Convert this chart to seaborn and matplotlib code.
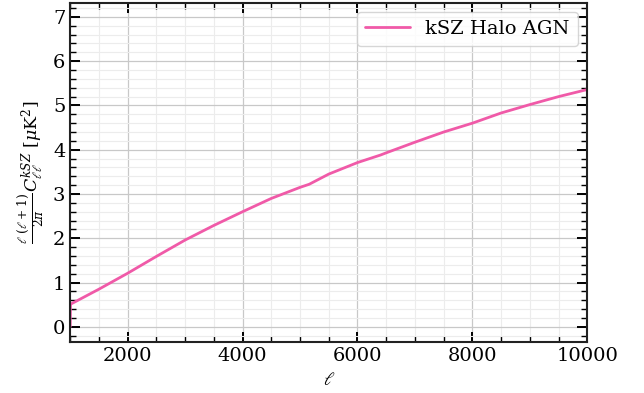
import numpy as np
import pandas as pd
import matplotlib
matplotlib.use("Agg")
import matplotlib.pyplot as plt
import seaborn as sns
from matplotlib.ticker import MultipleLocator

# kSZ power spectrum
ell = [1000, 1005, 1500, 2000, 2500, 3000, 3500, 4000, 4500, 5000, 5160,
       5500, 6000, 6400, 6500, 7000, 7500, 8000, 8500, 9000, 9500, 10000]
dl_ksz = [0.0, 0.51, 0.85, 1.21, 1.59, 1.96, 2.29, 2.60, 2.90, 3.15, 3.22,
          3.45, 3.71, 3.88, 3.93, 4.17, 4.40, 4.60, 4.83, 5.02, 5.20, 5.36]
label = "kSZ Halo AGN"

df = pd.DataFrame({"ell": ell, "dl": dl_ksz, "model": label})

sns.set_theme(style="ticks")
plt.rcParams["font.family"] = ["DejaVu Serif"]
plt.rcParams["mathtext.fontset"] = "dejavuserif"
plt.rcParams["text.color"] = "black"
plt.rcParams["axes.labelcolor"] = "black"

fig = plt.figure(figsize=(6.44, 3.93), dpi=100)
ax = fig.add_axes([0.109, 0.129, 0.803, 0.864])

sns.lineplot(data=df, x="ell", y="dl", hue="model", palette=["#f05aa8"],
             linewidth=2.0, estimator=None, sort=False, ax=ax)

ax.set_xlim(1000, 10000)
ax.set_ylim(-0.35, 7.32)
ax.xaxis.set_major_locator(MultipleLocator(2000))
ax.xaxis.set_minor_locator(MultipleLocator(500))
ax.yaxis.set_major_locator(MultipleLocator(1))
ax.yaxis.set_minor_locator(MultipleLocator(0.2))

ax.grid(which="major", color="#c8c8c8", linewidth=0.9)
ax.grid(which="minor", color="#ececec", linewidth=0.8)
ax.set_axisbelow(True)

ax.tick_params(which="both", direction="in", top=True, right=True,
               labelsize=14, colors="black")
ax.tick_params(which="major", length=7, width=1.4)
ax.tick_params(which="minor", length=4, width=1.0)
for s in ax.spines.values():
    s.set_linewidth(1.5)
    s.set_color("#222222")

ax.set_xlabel(r"$\ell$", fontsize=13)
ax.set_ylabel(r"$\frac{\ell\ (\ell+1)}{2\pi} C_{\ell\ell}^{kSZ}$ [$\mu$K$^2$]",
              fontsize=12.5)

ax.legend(loc="upper right", fontsize=14, frameon=True, fancybox=True,
          framealpha=0.8, handlelength=2.3, borderpad=0.4)

fig.savefig("out.png", dpi=100)
